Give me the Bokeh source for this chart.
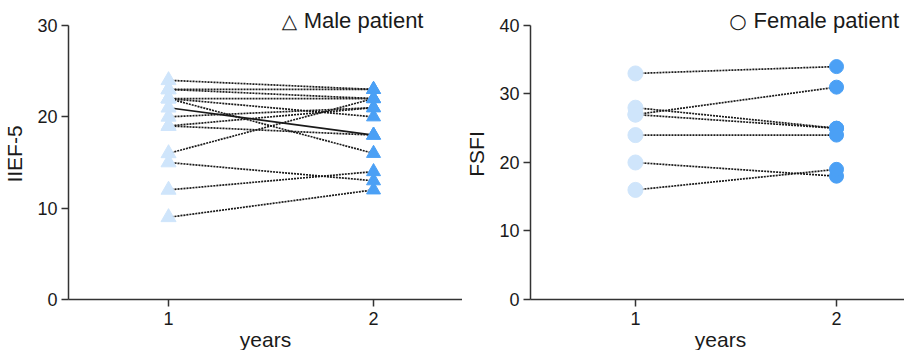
from bokeh.plotting import figure
from bokeh.models import ColumnDataSource, Range1d, Label, FixedTicker
from bokeh.layouts import row
from bokeh.embed import file_html
from bokeh.resources import INLINE

# ---- data ----
years = [1, 2]
male_pre = [24, 23, 23, 22, 22, 22, 20, 19, 19, 16, 15, 12, 9]
male_post = [23, 23, 22, 22, 20, 16, 21, 18, 21, 22, 13, 14, 12]
male_solid_pre = [21]
male_solid_post = [18]
female_pre = [33, 28, 27, 27, 24, 20, 16]
female_post = [34, 25, 31, 25, 24, 18, 19]

male_ticks = [0, 10, 20, 30]
female_ticks = [0, 10, 20, 30, 40]

PRE_COLOR = "#cfe5fb"
POST_COLOR = "#4ba0f5"
FONT = "Liberation Sans"


def style(p, ylabel, ticks):
    p.grid.visible = False
    p.outline_line_color = None
    p.xaxis.ticker = FixedTicker(ticks=years)
    p.yaxis.ticker = FixedTicker(ticks=ticks)
    p.yaxis.bounds = (ticks[0], ticks[-1])
    for ax in (p.xaxis[0], p.yaxis[0]):
        ax.axis_line_color = "#333333"
        ax.axis_line_width = 1.5
        ax.major_tick_line_color = "#333333"
        ax.major_tick_line_width = 1.5
        ax.major_tick_out = 7
        ax.major_tick_in = 0
        ax.minor_tick_line_color = None
        ax.major_label_text_font = FONT
        ax.major_label_text_font_size = "18px"
        ax.major_label_text_color = "#1a1a1a"
        ax.axis_label_text_font = FONT
        ax.axis_label_text_font_size = "21px"
        ax.axis_label_text_font_style = "normal"
        ax.axis_label_text_color = "#1a1a1a"
    p.xaxis.major_label_standoff = 5
    p.yaxis.major_label_standoff = 4
    p.xaxis.axis_label_standoff = 0
    p.yaxis.axis_label_standoff = 8
    p.xaxis.axis_label = "years"
    p.yaxis.axis_label = ylabel


def panel(pre, post, solid_pre, solid_post, marker, ylabel, ticks, yend,
          xstart, xend, fw, left_border, symbol, title, sym_x, title_x, title_y):
    p = figure(frame_width=fw, frame_height=291, output_backend="svg",
               toolbar_location=None, x_range=Range1d(xstart, xend),
               y_range=Range1d(0, yend), min_border_left=left_border,
               min_border_right=0, min_border_top=8, min_border_bottom=51)
    n = len(pre)
    src = ColumnDataSource(dict(x0=[years[0]] * n, x1=[years[1]] * n, y0=pre, y1=post))
    p.segment(x0="x0", y0="y0", x1="x1", y1="y1", source=src,
              line_color="#1a1a1a", line_width=1.7, line_dash="2 1")
    if solid_pre:
        m = len(solid_pre)
        s2 = ColumnDataSource(dict(x0=[years[0]] * m, x1=[years[1]] * m,
                                   y0=solid_pre, y1=solid_post))
        p.segment(x0="x0", y0="y0", x1="x1", y1="y1", source=s2,
                  line_color="#1a1a1a", line_width=1.6)
    allpre = pre + solid_pre
    allpost = post + solid_post
    p.scatter([years[0]] * len(allpre), allpre, marker=marker, size=15,
              fill_color=PRE_COLOR, line_color=PRE_COLOR)
    p.scatter([years[1]] * len(allpost), allpost, marker=marker, size=14,
              fill_color=POST_COLOR, line_color=POST_COLOR)
    style(p, ylabel, ticks)
    p.add_layout(Label(x=sym_x, y=title_y, text=symbol, text_align="center",
                       text_baseline="middle", text_font="DejaVu Sans",
                       text_font_size="20px", text_color="#1a1a1a"))
    p.add_layout(Label(x=title_x, y=title_y, text=title, text_align="left",
                       text_baseline="middle", text_font=FONT,
                       text_font_size="22px", text_color="#1a1a1a"))
    return p


p1 = panel(male_pre, male_post, male_solid_pre, male_solid_post, "triangle",
           "IIEF-5", male_ticks, 31.86, 0.512, 2.434, 394, 64,
           "\u25b3", "Male patient", 1.590, 1.659, 30.5)
p2 = panel(female_pre, female_post, [], [], "circle", "FSFI", female_ticks,
           42.48, 0.478, 2.368, 380, 66, "\u25cb", "Female patient",
           1.510, 1.587, 40.7)

layout = row(p1, p2, spacing=0)
open("out.html", "w").write(file_html(layout, INLINE))
